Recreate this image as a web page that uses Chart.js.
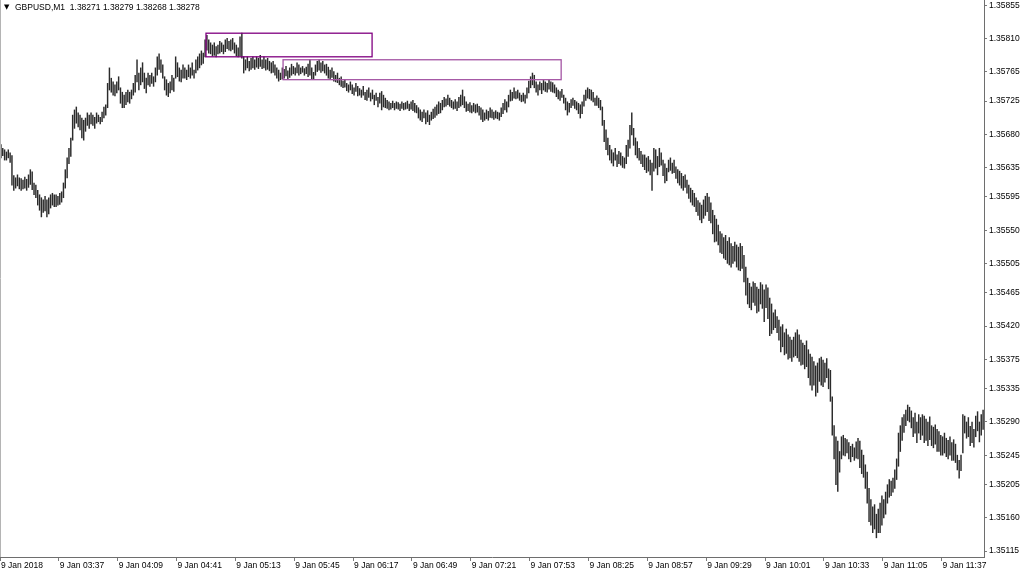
<!DOCTYPE html>
<html>
<head>
<meta charset="utf-8">
<title>GBPUSD,M1</title>
<script src="https://cdn.jsdelivr.net/npm/chart.js@4.4.1/dist/chart.umd.min.js"></script>
<style>
  html, body { margin: 0; padding: 0; background: #fff; }
  #wrap { width: 1024px; height: 574px; }
</style>
</head>
<body>
<div id="wrap"><canvas id="chart" width="1024" height="574"></canvas></div>
<script>
// prices are kept as points above 1.35000 (so 812 means 1.35812)
const BASE = 1.35;
const firstBarMinute = 3 * 60 + 5; // 03:05

const barHigh = [
  666,661,659,656,659,655,651,624,621,625, 621,620,618,622,619,625,632,629,614,611,
  604,598,594,591,596,591,594,598,600,598, 598,596,600,602,614,632,648,661,675,706,
  713,717,709,706,702,699,702,709,706,709, 706,703,709,706,703,710,717,720,749,770,
  756,751,747,751,758,743,737,733,737,740, 737,740,749,760,781,763,770,777,763,756,
  763,760,763,758,770,785,789,781,774,758, 754,749,751,760,756,785,777,770,767,774,
  770,767,774,770,777,767,781,785,789,793, 790,808,814,808,804,801,804,799,801,806,
  804,801,808,810,806,808,810,804,801,797, 812,817,785,781,785,779,783,785,781,785,
  783,787,781,785,781,783,779,777,779,774, 770,767,763,770,768,772,766,770,775,772,
  770,777,774,770,772,769,771,775,781,770, 764,774,779,781,777,779,774,775,771,767,
  770,765,760,763,756,758,752,754,749,747, 751,747,743,749,745,742,740,745,737,740,
  743,736,740,733,736,730,736,738,733,729, 726,724,722,725,722,724,723,721,724,722,
  723,725,721,724,726,722,719,716,713,710, 713,709,712,706,710,714,717,720,724,722,
  726,730,728,733,729,726,724,727,724,730, 733,740,731,724,721,723,719,722,720,721,
  718,716,713,709,713,711,716,713,710,712, 710,709,716,722,727,724,733,740,737,743,
  738,740,736,733,736,733,743,752,758,763, 760,751,747,751,749,753,751,749,753,751,
  750,747,743,740,738,741,733,729,724,722, 727,729,726,724,722,720,724,733,740,743,
  741,740,737,729,732,729,726,717,699,686, 675,665,659,655,661,652,657,655,650,648,
  665,672,692,709,688,675,670,661,657,652, 652,648,650,645,641,661,659,650,661,655,
  645,640,634,645,648,641,645,636,632,630, 627,623,625,618,611,607,604,600,594,590,
  587,584,591,596,600,595,587,577,570,565, 557,548,545,540,543,535,540,532,528,534,
  530,527,532,528,516,500,485,478,473,480, 478,473,470,479,476,469,476,472,458,450,
  438,442,433,428,419,422,411,416,408,405, 401,405,411,415,408,401,397,394,400,388,
  382,378,372,366,370,376,378,374,370,376, 362,360,324,285,270,264,250,270,272,268,
  266,262,257,260,255,263,268,264,252,245, 232,222,200,185,175,178,165,172,180,190,
  185,195,205,212,210,214,225,240,275,285, 296,300,306,313,310,305,296,302,290,300,
  296,300,298,294,290,297,285,283,286,280, 277,272,270,275,268,265,270,262,266,260,
  245,238,245,300,298,290,296,284,290,280, 298,304,290,300,306
];

const barLow = [
  648,651,645,645,648,642,611,604,607,610, 606,604,606,607,604,608,612,605,598,594,
  584,577,568,574,576,568,572,580,584,582, 582,584,585,588,594,607,621,640,650,672,
  688,695,690,686,675,672,684,692,688,694, 692,688,695,697,694,697,702,706,716,740,
  737,733,732,736,740,722,716,716,720,724, 722,728,733,737,751,740,747,751,742,736,
  747,745,749,745,751,760,768,764,756,740, 733,731,736,740,738,756,758,752,751,756,
  756,754,758,756,760,756,763,767,770,774, 776,785,794,790,789,786,787,785,789,790,
  792,789,792,796,794,793,795,790,786,785, 786,783,763,767,770,766,768,770,768,771,
  769,772,769,770,767,768,766,763,764,760, 756,752,754,755,756,759,755,757,760,762,
  760,763,760,762,764,760,762,758,760,755, 754,760,765,767,764,766,763,760,756,754,
  757,752,751,750,747,745,743,744,739,737, 740,735,733,738,732,733,730,733,727,726,
  730,725,728,720,726,717,722,713,717,716, 715,713,714,716,713,715,714,712,715,713,
  714,715,712,714,712,710,709,702,699,697, 702,694,697,693,699,701,703,706,708,709,
  713,717,718,720,718,716,714,715,712,716, 718,720,716,711,712,710,709,711,709,710,
  706,700,697,699,701,699,703,702,700,702, 701,699,704,708,713,710,717,725,726,729,
  728,729,726,724,725,722,729,736,743,747, 743,737,733,740,735,740,738,737,741,738,
  737,736,731,728,726,730,722,713,706,710, 716,719,715,713,708,702,708,718,726,729,
  728,726,724,719,719,716,713,692,670,659, 652,645,641,637,645,636,640,638,635,634,
  640,650,661,679,665,652,648,645,640,636, 632,628,630,625,604,630,634,625,636,638,
  624,614,617,629,631,627,628,620,614,611, 607,604,608,600,593,588,584,582,575,570,
  564,560,566,570,575,563,560,545,534,535, 530,520,518,512,510,505,503,500,505,508,
  500,496,495,498,480,462,450,445,442,452, 448,438,440,450,444,426,445,430,407,410,
  415,418,411,401,385,392,381,383,375,377, 372,378,380,377,372,367,368,362,365,350,
  340,333,340,325,330,345,340,338,344,350, 335,318,272,240,205,196,222,240,245,244,
  248,240,236,243,238,241,240,228,220,215, 200,180,155,150,140,145,133,140,140,150,
  160,165,180,188,190,195,200,212,230,250, 265,276,285,292,290,282,270,275,262,275,
  266,272,262,265,258,266,258,255,260,250, 250,245,245,248,243,240,245,238,238,235,
  225,214,224,248,275,268,270,258,262,256, 270,278,263,272,280
];

// time axis labels, one every 32 bars
const tickEvery = 32;
const timeTicks = [
  '9 Jan 2018', '9 Jan 03:37', '9 Jan 04:09', '9 Jan 04:41', '9 Jan 05:13', '9 Jan 05:45',
  '9 Jan 06:17', '9 Jan 06:49', '9 Jan 07:21', '9 Jan 07:53', '9 Jan 08:25', '9 Jan 08:57',
  '9 Jan 09:29', '9 Jan 10:01', '9 Jan 10:33', '9 Jan 11:05', '9 Jan 11:37'
];

const priceTicks = [
  1.35855, 1.35810, 1.35765, 1.35725, 1.35680, 1.35635, 1.35595, 1.35550, 1.35505,
  1.35465, 1.35420, 1.35375, 1.35335, 1.35290, 1.35245, 1.35205, 1.35160, 1.35115
];

// rectangles drawn on the chart (bar index range, price range in points)
const boxFrom = [111.5, 153.4];
const boxTo = [201.8, 304.6];
const boxHigh = [817, 781];
const boxLow = [785, 754];

const header = 'GBPUSD,M1  1.38271 1.38279 1.38268 1.38278';
const FONT = '"Liberation Sans", Arial, sans-serif';

const times = barHigh.map((_, i) => {
  const m = firstBarMinute + i;
  return String(Math.floor(m / 60)).padStart(2, '0') + ':' + String(m % 60).padStart(2, '0');
});

const boxPlugin = {
  id: 'boxes',
  afterDatasetsDraw(chart) {
    const { ctx, scales: { x, y } } = chart;
    ctx.save();
    ctx.lineWidth = 1.3;
    boxFrom.forEach((from, k) => {
      const l = x.getPixelForValue(from);
      const r = x.getPixelForValue(boxTo[k]);
      const t = y.getPixelForValue(boxHigh[k]);
      const b = y.getPixelForValue(boxLow[k]);
      ctx.strokeStyle = k === 0 ? '#800080' : '#a455a4';
      ctx.strokeRect(l, t, r - l, b - t);
    });
    ctx.restore();
  }
};

const headerPlugin = {
  id: 'header',
  afterDraw(chart) {
    const ctx = chart.ctx;
    const area = chart.chartArea;
    ctx.save();
    // left frame edge
    ctx.strokeStyle = '#b4b4b4';
    ctx.lineWidth = 1;
    ctx.beginPath();
    ctx.moveTo(0.5, area.top);
    ctx.lineTo(0.5, area.bottom);
    ctx.stroke();
    ctx.fillStyle = '#000';
    ctx.textBaseline = 'middle';
    ctx.font = '7px "DejaVu Sans"';
    ctx.fillText('▼', 4, 7);
    ctx.font = '8.5px ' + FONT;
    ctx.fillText(header, 15, 7.5);
    ctx.restore();
  }
};

const ctx = document.getElementById('chart').getContext('2d');
new Chart(ctx, {
  type: 'bar',
  data: {
    labels: times,
    datasets: [{
      data: barHigh.map((h, i) => [barLow[i], h]),
      backgroundColor: '#2b2b2b',
      borderWidth: 0,
      barThickness: 0.8
    }]
  },
  options: {
    responsive: false,
    animation: false,
    events: [],
    layout: { padding: 0 },
    plugins: {
      legend: { display: false },
      tooltip: { enabled: false }
    },
    scales: {
      x: {
        type: 'category',
        grid: {
          drawOnChartArea: false,
          tickLength: 4,
          offset: true,
          color: c => (c.index % tickEvery === 0 ? '#7a7a7a' : 'rgba(0,0,0,0)')
        },
        border: { color: '#6e6e6e', width: 1 },
        ticks: {
          autoSkip: false,
          maxRotation: 0,
          minRotation: 0,
          align: 'start',
          padding: 0,
          color: '#000',
          font: { family: FONT, size: 8.5 },
          callback: (v, i) => (i % tickEvery === 0 ? timeTicks[i / tickEvery] : '')
        },
        afterFit: s => { s.height = 17; s.paddingLeft = 0; s.paddingRight = 0; }
      },
      y: {
        position: 'right',
        min: 107,
        max: 862,
        grid: { drawOnChartArea: false, tickLength: 3, color: '#7a7a7a' },
        border: { color: '#6e6e6e', width: 1 },
        afterBuildTicks: s => {
          s.ticks = priceTicks.map(p => ({ value: Math.round((p - BASE) * 1e5) }));
        },
        ticks: {
          padding: 2,
          color: '#000',
          font: { family: FONT, size: 8.5 },
          callback: v => (BASE + v / 1e5).toFixed(5)
        },
        afterFit: s => { s.width = 40; s.paddingTop = 0; s.paddingBottom = 0; }
      }
    }
  },
  plugins: [boxPlugin, headerPlugin]
});
</script>
</body>
</html>
